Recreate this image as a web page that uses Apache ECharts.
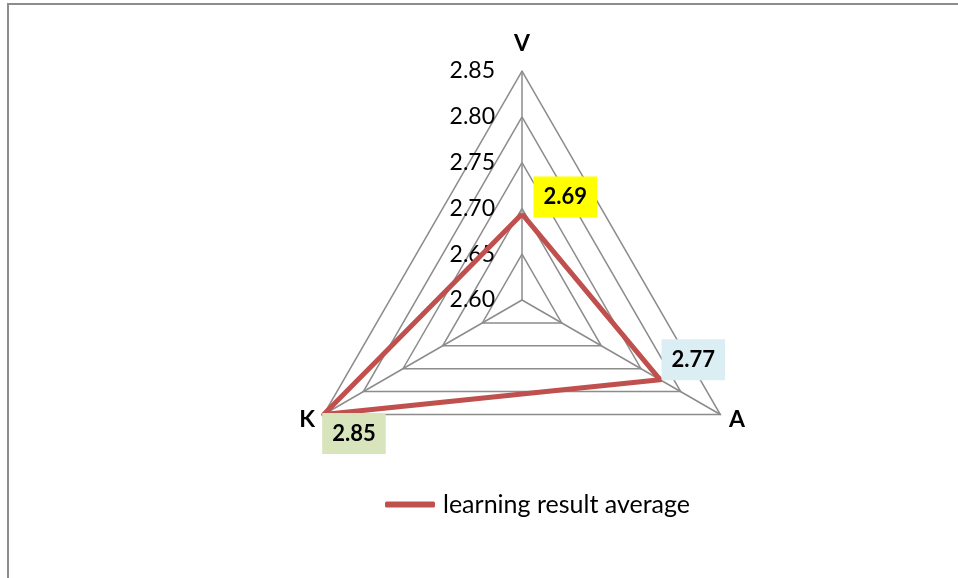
<!DOCTYPE html>
<html>
<head>
<meta charset="utf-8">
<script src="https://cdn.jsdelivr.net/npm/echarts@6/dist/echarts.min.js"></script>
<style>
  html, body { margin: 0; padding: 0; background: #fff; }
  #frame { position: absolute; left: 7px; top: 3px; width: 951px; height: 575px;
           border-top: 2px solid #8c8c8c; border-left: 2px solid #8c8c8c; }
  #main { position: absolute; left: 0; top: 0; width: 958px; height: 578px; }
</style>
</head>
<body>
<div id="frame"></div>
<div id="main"></div>
<script type="text/javascript">
    // indicators in ECharts order (counter-clockwise from top)
    var indicators = ['V', 'K', 'A'];
    var values = [2.694, 2.85, 2.774];
    var seriesName = 'learning result average';
    var axisMin = 2.60, axisMax = 2.85;
    // label box colours per point
    var labelColors = ['#ffff00', '#d7e4bc', '#daeef3'];
    // label offset from the point (dx, dy)
    var labelShift = [[11, -17], [-2, 19], [1, -20]];

    var font = 'Lato, "Open Sans", sans-serif';
    var myChart = echarts.init(document.getElementById('main'), null, {renderer: 'canvas'});

    var rich = {};
    labelColors.forEach(function (c, i) {
        rich['c' + i] = {
            backgroundColor: c,
            padding: [10, 10, 9, 10],
            fontSize: 22,
            fontWeight: 'bold',
            color: '#000',
            fontFamily: font
        };
    });

    myChart.setOption({
        animation: false,
        legend: {
            data: [seriesName],
            left: 380,
            top: 487,
            itemWidth: 50,
            itemHeight: 6,
            icon: 'roundRect',
            textStyle: { fontSize: 25, color: '#000', fontFamily: font, padding: [0, 0, 0, 3] }
        },
        radar: {
            center: [522, 300],
            radius: 229,
            shape: 'polygon',
            splitNumber: 5,
            startAngle: 90,
            nameGap: 10,
            axisName: {
                color: '#000', fontSize: 23, fontWeight: 'bold', fontFamily: font,
                formatter: function (n) { return n === 'V' ? '{top|V}' : n; },
                rich: { top: { padding: [0, 0, 6, 0], fontSize: 23, fontWeight: 'bold', fontFamily: font, color: '#000' } }
            },
            indicator: indicators.map(function (n, i) {
                return {
                    name: n, min: axisMin, max: axisMax,
                    axisLabel: {
                        show: i === 0, color: '#000', fontSize: 23, fontFamily: font, margin: 27,
                        formatter: function (v) { return v.toFixed(2); }
                    }
                };
            }),
            axisLine: { lineStyle: { color: '#8c8c8c', width: 1.5 } },
            splitLine: { lineStyle: { color: '#8c8c8c', width: 1.5 } },
            splitArea: { show: false }
        },
        series: [{
            name: seriesName,
            type: 'radar',
            symbol: 'circle',
            symbolSize: 1,
            lineStyle: { color: '#c0504d', width: 5 },
            itemStyle: { color: '#c0504d' },
            label: {
                show: true,
                position: 'right',
                distance: 0,
                formatter: function (p) {
                    var v = Array.isArray(p.value) ? p.value[p.dimensionIndex || 0] : p.value;
                    var i = values.indexOf(v);
                    return '{c' + i + '|' + Number(v).toFixed(2) + '}';
                },
                rich: rich
            },
            labelLayout: function (p) {
                // text looks like "{c1|2.85}": the style name carries the point index
                var m = /c(\d+)\|/.exec(p.text || '');
                if (!m) return {};
                var i = +m[1];
                return { dx: labelShift[i][0], dy: labelShift[i][1] };
            },
            data: [{ value: values, name: seriesName }]
        }]
    });
</script>
</body>
</html>
